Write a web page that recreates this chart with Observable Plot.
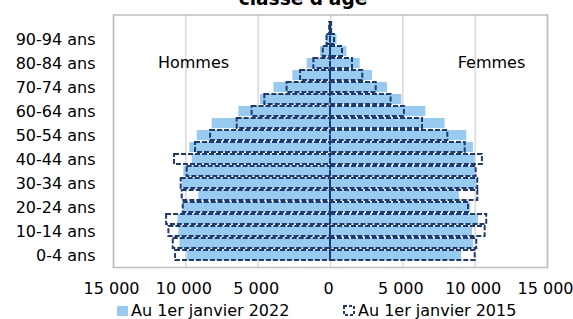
<!DOCTYPE html>
<html>
<head>
<meta charset="utf-8">
<script src="https://cdn.jsdelivr.net/npm/d3@7"></script>
<script src="https://cdn.jsdelivr.net/npm/@observablehq/plot@0.6"></script>
<style>
  html, body { margin: 0; padding: 0; background: #fff; }
  #chart { width: 573px; height: 319px; overflow: hidden; }
</style>
</head>
<body>
<div id="chart"></div>
<script>
const ages = ["0-4 ans","5-9 ans","10-14 ans","15-19 ans","20-24 ans","25-29 ans","30-34 ans","35-39 ans","40-44 ans","45-49 ans","50-54 ans","55-59 ans","60-64 ans","65-69 ans","70-74 ans","75-79 ans","80-84 ans","85-89 ans","90-94 ans","95 ans et plus"];
const shownAges = ["0-4 ans","10-14 ans","20-24 ans","30-34 ans","40-44 ans","50-54 ans","60-64 ans","70-74 ans","80-84 ans","90-94 ans"];
const hommes2022 = [9910,10410,10480,10550,10180,9100,10250,10140,9560,9720,9210,8180,6330,4840,3910,2600,1610,690,300,80];
const hommes2015 = [10710,10870,11170,11330,10180,10250,10320,9910,10780,9330,8290,6450,5420,4540,3000,2070,1150,500,240,60];
const femmes2022 = [9070,9880,9810,10230,9700,8910,10110,10000,10000,9880,9420,7920,6590,4930,3940,2900,2050,1130,450,120];
const femmes2015 = [10000,10110,10690,10800,9540,10180,10180,10070,10500,9310,8110,6360,5110,4190,3160,2230,1520,830,280,80];
const xTicks = [-15000,-10000,-5000,0,5000,10000,15000];
const seriesNames = ["Au 1er janvier 2022","Au 1er janvier 2015"];
const sideLabels = ["Hommes","Femmes"];
const titleText = "classe d'âge";

const rows2022 = ages.flatMap((a,i)=>[{age:a, value:-hommes2022[i]},{age:a, value:femmes2022[i]}]);
const rows2015 = ages.flatMap((a,i)=>[{age:a, value:-hommes2015[i]},{age:a, value:femmes2015[i]}]);
const annot = [{x:-9470, y:"80-84 ans", text:sideLabels[0]},{x:11130, y:"80-84 ans", text:sideLabels[1]}];

const fmt = v => String(Math.abs(v)).replace(/\B(?=(\d{3})+(?!\d))/g, " ");
const blue = "#97cbef", navy = "#1f3a73";

const svg = Plot.plot({
  width: 573, height: 319,
  marginLeft: 113, marginRight: 26, marginTop: 14.5, marginBottom: 52,
  style: {fontFamily: "DejaVu Sans", fontSize: "16px", color: "#000", background: "#fff"},
  x: {domain: [-15000, 15000]},
  y: {domain: ages.slice().reverse(), padding: 0.17},
  marks: [
    Plot.gridX(xTicks, {stroke: "#d9d9d9", strokeOpacity: 1, strokeWidth: 1.5}),
    Plot.frame({stroke: "#bfbfbf", strokeWidth: 1.5}),
    Plot.barX(rows2022, {x1: 0, x2: "value", y: "age", fill: blue}),
    Plot.barX(rows2015, {x1: 0, x2: "value", y: "age", fill: "none", stroke: navy, strokeWidth: 2, strokeDasharray: "5,2"}),
    Plot.axisX({ticks: xTicks, tickSize: 0, tickPadding: 15, tickFormat: fmt, label: null, fontSize: 16, dx: -2}),
    Plot.axisY({ticks: shownAges, tickSize: 0, tickPadding: 18, label: null, fontSize: 16}),
    Plot.text(annot, {x: "x", y: "y", text: "text", dy: -1, fontSize: 16, fill: "#000"})
  ]
});

const s = d3.select(svg);
s.append("text").attr("x", 303).attr("y", 5).attr("text-anchor", "middle")
  .attr("font-weight", "bold").attr("font-size", 18.6).attr("fill", "#000").text(titleText);

const leg = s.append("g").attr("font-size", 16).attr("fill", "#000").attr("text-anchor", "start");
leg.append("rect").attr("x", 117).attr("y", 306).attr("width", 11).attr("height", 10).attr("fill", blue);
leg.append("text").attr("x", 131).attr("y", 316).text(seriesNames[0]);
leg.append("rect").attr("x", 344).attr("y", 306).attr("width", 10).attr("height", 9).attr("fill", "none")
  .attr("stroke", navy).attr("stroke-width", 2).attr("stroke-dasharray", "3,2");
leg.append("text").attr("x", 358).attr("y", 316).text(seriesNames[1]);

document.getElementById("chart").appendChild(svg);
</script>
</body>
</html>
